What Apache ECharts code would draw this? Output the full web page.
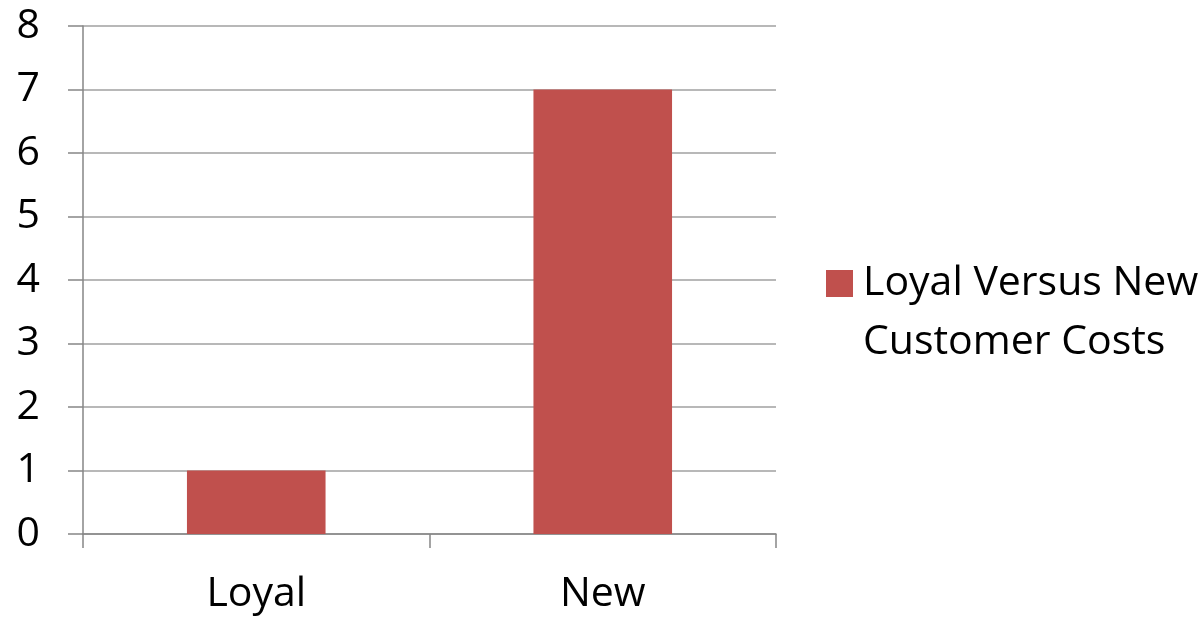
<!DOCTYPE html>
<html><head><meta charset="utf-8">
<script src="https://cdn.jsdelivr.net/npm/echarts@6/dist/echarts.min.js"></script>
<style>html,body{margin:0;padding:0;background:#fff}#c{width:1203px;height:618px}</style>
</head><body><div id="c"></div>
<script>
const categories = ["Loyal", "New"];
const seriesName = "Loyal Versus New\nCustomer Costs";
const values = [1, 7];
const FONT = "Open Sans";
const chart = echarts.init(document.getElementById('c'));
chart.setOption({
  animation: false,
  backgroundColor: '#fff',
  grid: { left: 83, right: 427, top: 26, bottom: 84 },
  legend: {
    left: 821, top: 190,
    icon: 'rect', itemWidth: 27, itemHeight: 27, itemGap: 0,
    formatter: function (n) { return '\n' + n; },
    textStyle: { fontFamily: FONT, fontSize: 41, color: '#000', lineHeight: 59, padding: [0, 0, 0, 5] },
    data: [seriesName]
  },
  xAxis: {
    type: 'category', data: categories,
    axisLine: { lineStyle: { color: '#868686', width: 1.5 } },
    axisTick: { show: true, length: 14, lineStyle: { color: '#868686', width: 1.5 } },
    axisLabel: { fontFamily: FONT, fontSize: 41, color: '#000', margin: 40 }
  },
  yAxis: {
    type: 'value', min: 0, max: 8, interval: 1,
    axisLine: { show: true, lineStyle: { color: '#868686', width: 1.5 } },
    axisTick: { show: true, length: 15, lineStyle: { color: '#868686', width: 1.5 } },
    splitLine: { lineStyle: { color: '#a0a0a0', width: 1.5 } },
    axisLabel: { fontFamily: FONT, fontSize: 41, color: '#000', margin: 43 }
  },
  series: [{
    name: seriesName, type: 'bar', data: values, barWidth: '40%',
    itemStyle: { color: '#C0504D' }
  }]
});
</script></body></html>
